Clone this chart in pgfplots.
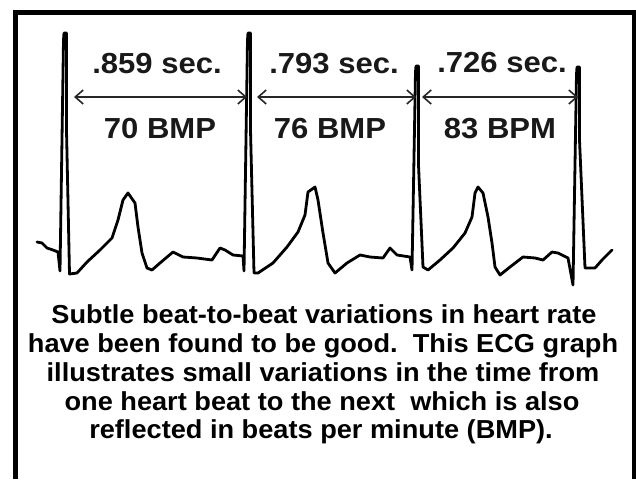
\documentclass[border=0pt]{standalone}
\usepackage{pgfplots}
\pgfplotsset{compat=1.18}
\usepackage{fontspec}
\setmainfont{Liberation Sans}
\usetikzlibrary{arrows.meta}
\begin{document}
\begin{tikzpicture}
\begin{axis}[scale only axis, width=636pt, height=479pt,
  xmin=0, xmax=636, ymin=0, ymax=479, y dir=reverse,
  hide axis, clip=true, anchor=south west, at={(0pt,0pt)}]
% frame
\addplot[black, line width=5pt, line join=miter] coordinates {(15.5,479) (15.5,12.5) (634,12.5) (634,479)};
% ECG trace
\addplot[black, line width=2.8pt, line join=round, line cap=round] coordinates {
(37,242) (42,243) (47,248) (53,250) (58,252) (60,271) (63.5,40) (64,33) (66.5,33) (66.5,130) (69.5,274) (77,273)
(87,262) (100,250) (112,238) (118,220) (123,200) (128,193) (135,203) (138,227) (142,253)
(147,268) (152,270) (160,263) (173,252) (183,257) (197,258) (212,260) (220,248) (225,250)
(233,255) (243,256) (244,271) (247.5,40) (248,33) (250.5,33) (250.5,130) (254,273) (258,273) (273,263) (287,247)
(298,232) (305,215) (308,192) (315,187) (318,200) (323,233) (328,263) (335,273) (347,263)
(360,255) (370,257) (383,258) (390,248) (397,255) (410,257) (412,270) (415.5,72) (416,66) (418.5,66) (418.5,165)
(423,267) (428,270) (440,260) (453,248) (465,233) (472,217) (475,193) (478,187) (483,193)
(488,217) (492,243) (495,267) (500,275) (510,267) (523,257) (535,258) (543,260) (552,252)
(558,253) (568,258) (573,285) (576.5,74) (577,67) (579.5,67) (579.5,140) (585,268) (590,268) (595,268) (602,260)
(612,250)};
% interval arrows
\addplot[black!85, line width=2.6pt, {Straight Barb[length=8pt,width=14pt,line width=1.6pt]}-{Straight Barb[length=8pt,width=14pt,line width=1.6pt]}] coordinates {(74,97) (247,97)};
\addplot[black!85, line width=2.6pt, {Straight Barb[length=8pt,width=14pt,line width=1.6pt]}-{Straight Barb[length=8pt,width=14pt,line width=1.6pt]}] coordinates {(257,97) (416,97)};
\addplot[black!85, line width=2.6pt, {Straight Barb[length=8pt,width=14pt,line width=1.6pt]}-{Straight Barb[length=8pt,width=14pt,line width=1.6pt]}] coordinates {(422,97) (578,97)};
% labels
\node[anchor=base, xscale=1.07, inner sep=0pt, text=black!90] at (axis cs:157,73) {\fontsize{29}{32}\selectfont\bfseries .859 sec.};
\node[anchor=base, xscale=1.07, inner sep=0pt, text=black!90] at (axis cs:334,73) {\fontsize{29}{32}\selectfont\bfseries .793 sec.};
\node[anchor=base, xscale=1.07, inner sep=0pt, text=black!90] at (axis cs:502,72) {\fontsize{29}{32}\selectfont\bfseries .726 sec.};
\node[anchor=base, xscale=1.07, inner sep=0pt, text=black!90] at (axis cs:160,138) {\fontsize{29}{32}\selectfont\bfseries 70 BMP};
\node[anchor=base, xscale=1.07, inner sep=0pt, text=black!90] at (axis cs:330,138) {\fontsize{29}{32}\selectfont\bfseries 76 BMP};
\node[anchor=base, xscale=1.07, inner sep=0pt, text=black!90] at (axis cs:500,138) {\fontsize{29}{32}\selectfont\bfseries 83 BPM};
% caption
\node[anchor=base, xscale=1.045, inner sep=0pt] at (axis cs:324,323) {\fontsize{26}{29}\selectfont\bfseries Subtle beat-to-beat variations in heart rate};
\node[anchor=base, xscale=1.045, inner sep=0pt] at (axis cs:323,352) {\fontsize{26}{29}\selectfont\bfseries have been found to be good.\ \ This ECG graph};
\node[anchor=base, xscale=1.045, inner sep=0pt] at (axis cs:323,381) {\fontsize{26}{29}\selectfont\bfseries illustrates small variations in the time from};
\node[anchor=base, xscale=1.045, inner sep=0pt] at (axis cs:322,410) {\fontsize{26}{29}\selectfont\bfseries one heart beat to the next\ \ which is also};
\node[anchor=base, xscale=1.045, inner sep=0pt] at (axis cs:321,438) {\fontsize{26}{29}\selectfont\bfseries reflected in beats per minute (BMP).};
\end{axis}
\pgfresetboundingbox
\path (0pt,0pt) rectangle (636pt,479pt);
\end{tikzpicture}
\end{document}
